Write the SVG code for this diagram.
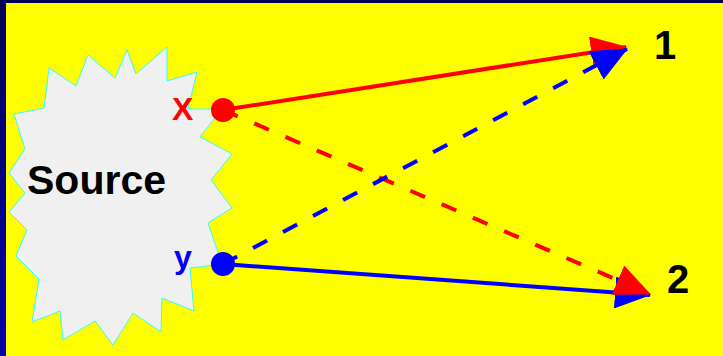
<svg xmlns="http://www.w3.org/2000/svg" width="723" height="356" viewBox="0 0 723 356">
  <style>
    .lbl { font-family: "Liberation Sans", Arial, sans-serif; font-weight: bold; }
    .red { stroke: #ff0000; fill: none; stroke-width: 4; }
    .blue { stroke: #0000ff; fill: none; stroke-width: 4; }
    .dash { stroke-dasharray: 16 18; }
  </style>
  <defs>
    <linearGradient id="frame" x1="0" y1="0" x2="0" y2="1">
      <stop offset="0" stop-color="#000055"/>
      <stop offset="1" stop-color="#0000aa"/>
    </linearGradient>
    <marker id="arrRed" markerUnits="userSpaceOnUse" viewBox="0 0 36 32" markerWidth="36" markerHeight="32" refX="35" refY="16" orient="auto">
      <path d="M0,0 L36,16 L0,32 z" fill="#ff0000"/>
    </marker>
    <marker id="arrBlue" markerUnits="userSpaceOnUse" viewBox="0 0 36 32" markerWidth="36" markerHeight="32" refX="35" refY="16" orient="auto">
      <path d="M0,0 L36,16 L0,32 z" fill="#0000ff"/>
    </marker>
  </defs>

  <rect x="0" y="0" width="723" height="356" fill="url(#frame)"/>
  <rect x="6" y="3" width="717" height="353" fill="#ffff00"/>

  <g id="source">
    <polygon points="14,114 44,108 49,68 76,86 88,55 115,78 127,50 136,74 167,47 167,81 197,72 188,109 222,109 200,137 232,154 211,180 232,208 208,223 222,264 190,268 194,311 162,298 161,332 133,313 113,345 95,321 63,340 60,311 32,322 39,279 16,256 27,230 9,212 25,193 9,173 25,149" fill="#f0f0f0" stroke="#33ffff" stroke-width="1"/>
    <text class="lbl" x="27" y="194" font-size="41" fill="#000000">Source</text>
  </g>

  <g id="connectors">
    <line id="x-to-1" class="red" x1="223" y1="110" x2="626" y2="47" marker-end="url(#arrRed)"/>
    <line id="y-to-2" class="blue" x1="223" y1="264" x2="650" y2="295" marker-end="url(#arrBlue)"/>
    <line id="x-to-2" class="red dash" x1="223" y1="110" x2="650" y2="294" marker-end="url(#arrRed)"/>
    <line id="y-to-1" class="blue dash" x1="223" y1="264" x2="627" y2="49" marker-end="url(#arrBlue)"/>
  </g>

  <g id="point-x">
    <circle cx="223" cy="110" r="12" fill="#ff0000"/>
    <text class="lbl" x="172" y="120" font-size="32" fill="#ff0000">X</text>
  </g>

  <g id="point-y">
    <circle cx="223" cy="264" r="12" fill="#0000ff"/>
    <text class="lbl" x="174" y="268" font-size="32" fill="#0000ff">y</text>
  </g>

  <g id="target-1">
    <text class="lbl" x="654" y="59" font-size="40" fill="#000000">1</text>
  </g>

  <g id="target-2">
    <text class="lbl" x="667" y="293" font-size="40" fill="#000000">2</text>
  </g>
</svg>
